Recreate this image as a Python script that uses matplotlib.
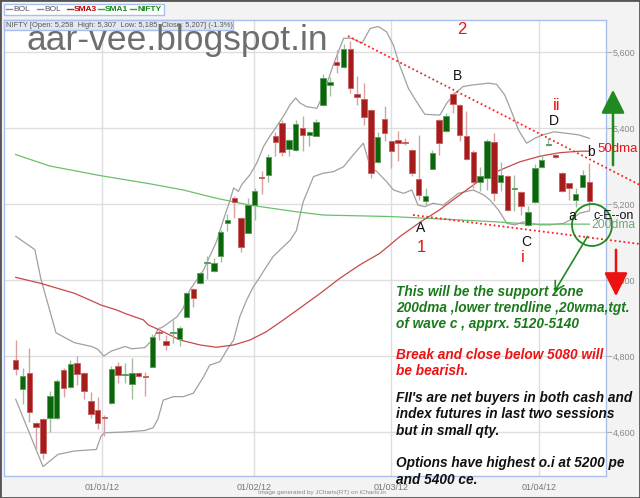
import matplotlib
matplotlib.use('Agg')
import matplotlib.pyplot as plt
from matplotlib.patches import Rectangle, Ellipse, FancyArrowPatch

# ---------------- data ----------------
opens = [4789, 4714, 4754, 4625, 4635, 4636, 4636, 4763, 4718, 4782,
         4756, 4682, 4659, 4640, 4676, 4775, 4749, 4726, 4754, 4747,
         4771, 4864, 4839, 4861, 4844, 4903, 4975, 4993, 5045, 5025,
         5064, 5151, 5217, 5162, 5125, 5198, 5271, 5277, 5379, 5414,
         5345, 5343, 5400, 5381, 5380, 5460, 5514, 5574, 5561, 5609,
         5489, 5477, 5448, 5311, 5424, 5365, 5369, 5362, 5343, 5266,
         5207, 5293, 5422, 5391, 5490, 5461, 5380, 5336, 5257, 5268,
         5362, 5257, 5273, 5240, 5232, 5146, 5204, 5297, 5354, 5330,
         5282, 5254, 5210, 5246, 5258]
highs = [4842, 4769, 4820, 4627, 4637, 4708, 4740, 4768, 4789, 4800,
         4758, 4704, 4692, 4645, 4775, 4784, 4781, 4796, 4758, 4758,
         4857, 4877, 4855, 4896, 4879, 4969, 4978, 5022, 5062, 5057,
         5132, 5174, 5220, 5167, 5215, 5242, 5286, 5331, 5389, 5420,
         5370, 5422, 5431, 5392, 5424, 5542, 5533, 5606, 5621, 5628,
         5536, 5518, 5450, 5389, 5457, 5367, 5393, 5374, 5345, 5382,
         5242, 5343, 5424, 5440, 5496, 5463, 5444, 5343, 5297, 5370,
         5387, 5310, 5275, 5275, 5234, 5194, 5304, 5330, 5374, 5338,
         5285, 5256, 5241, 5289, 5307]
lows = [4749, 4673, 4626, 4556, 4530, 4600, 4633, 4692, 4716, 4723,
        4686, 4638, 4609, 4589, 4675, 4730, 4730, 4688, 4745, 4695,
        4770, 4842, 4815, 4833, 4826, 4902, 4930, 4989, 5003, 5020,
        5048, 5130, 5163, 5075, 5123, 5158, 5226, 5257, 5325, 5325,
        5325, 5340, 5339, 5352, 5378, 5458, 5485, 5545, 5559, 5492,
        5461, 5409, 5268, 5309, 5365, 5296, 5312, 5354, 5273, 5211,
        5198, 5292, 5330, 5390, 5439, 5365, 5316, 5242, 5233, 5238,
        5207, 5233, 5181, 5181, 5172, 5141, 5202, 5296, 5352, 5320,
        5232, 5211, 5192, 5244, 5185]
closes = [4765, 4747, 4653, 4613, 4544, 4695, 4734, 4716, 4779, 4752,
          4708, 4647, 4624, 4637, 4767, 4751, 4751, 4755, 4747, 4744,
          4851, 4861, 4830, 4863, 4874, 4967, 4953, 5018, 5047, 5046,
          5127, 5157, 5204, 5088, 5198, 5235, 5268, 5324, 5362, 5336,
          5368, 5411, 5382, 5389, 5415, 5532, 5521, 5565, 5609, 5505,
          5482, 5429, 5282, 5375, 5386, 5340, 5361, 5360, 5282, 5223,
          5220, 5333, 5361, 5431, 5464, 5382, 5318, 5257, 5273, 5365,
          5229, 5277, 5185, 5243, 5194, 5179, 5295, 5317, 5358, 5324,
          5233, 5242, 5226, 5277, 5207]

# Bollinger upper / lower, SMA3 (50dma), SMA1 (200dma): (bar index, value)
bb_up_idx = [0, 2.8, 3.7, 5.9, 8.6, 11.1, 12.0, 12.9, 14.0, 16.0, 17.0, 18.9, 20.1, 20.8,
             21.6, 22.6, 23.6, 24.5, 25.5, 26.5, 27.5, 28.4, 29.4, 30.4, 31.4, 31.9, 32.6,
             33.1, 34.3, 35.3, 36.3, 37.2, 38.2, 39.2, 40.2, 41.0, 41.6, 42.6, 44.1, 45.0,
             46.5, 48.0, 49.2, 50.7, 51.9, 53.1, 54.3, 55.3, 56.2, 57.5, 58.7, 59.9, 62.1,
             63.1, 64.3, 65.5, 66.8, 69.2, 70.4, 71.6, 72.6, 73.6, 74.8, 76.0, 77.2, 78.8,
             80.7, 82.4, 84.0]
bb_up = [5115, 5080, 5002, 4861, 4835, 4825, 4818, 4800, 4813, 4825, 4819, 4822, 4844, 4870,
         4877, 4890, 4903, 4925, 4974, 5000, 5026, 5062, 5101, 5158, 5211, 5242, 5233,
         5251, 5277, 5308, 5352, 5378, 5404, 5431, 5462, 5479, 5466, 5456, 5452, 5487,
         5566, 5636, 5636, 5623, 5662, 5667, 5653, 5618, 5566, 5504, 5469, 5436, 5434,
         5465, 5491, 5509, 5513, 5518, 5515, 5487, 5443, 5395, 5360, 5373, 5382, 5390,
         5386, 5382, 5373]
bb_lo_idx = [0, 4.0, 6.2, 8.6, 11.8, 12.5, 13.0, 16.0, 18.9, 20.1, 20.8, 21.6, 23.1, 24.5,
             26.0, 27.5, 28.4, 29.9, 30.9, 31.9, 32.8, 33.8, 34.8, 35.8, 36.7, 37.7, 39.2,
             40.2, 41.1, 42.1, 43.6, 45.0, 46.5, 48.0, 49.4, 50.9, 51.9, 52.9, 54.3, 55.3,
             56.8, 58.0, 58.9, 59.9, 61.1, 62.6, 64.8, 67.0, 68.5, 69.4, 70.7, 71.9, 73.1,
             74.3, 75.3, 76.8, 78.2, 80.2, 81.2, 82.6, 84.0]
bb_lo = [4686, 4509, 4541, 4550, 4554, 4589, 4598, 4600, 4604, 4611, 4633, 4684, 4693, 4693,
         4702, 4745, 4776, 4785, 4815, 4842, 4903, 4947, 4982, 5009, 5035, 5062, 5088,
         5105, 5130, 5206, 5272, 5281, 5285, 5298, 5329, 5360, 5298, 5285, 5259, 5237,
         5228, 5237, 5197, 5193, 5202, 5197, 5228, 5237, 5224, 5211, 5184, 5149, 5145,
         5153, 5149, 5145, 5145, 5149, 5158, 5176, 5182]
sma3_idx = [0, 3.7, 8.6, 10.9, 12.5, 14.8, 16.0, 18.7, 19.4, 21.1, 24.1, 27.0, 29.4, 31.9,
            34.3, 36.7, 39.2, 41.6, 44.6, 47.5, 50.4, 53.3, 56.3, 59.2, 62.1, 65.1, 68.0,
            70.9, 73.8, 76.8, 79.7, 82.6, 84.0]
sma3 = [5007, 4991, 4965, 4947, 4934, 4921, 4912, 4895, 4882, 4868, 4842, 4829, 4823, 4829,
        4842, 4864, 4895, 4926, 4965, 5005, 5040, 5070, 5115, 5152, 5185, 5225, 5263,
        5289, 5311, 5326, 5335, 5339, 5339]
sma1_idx = [0, 5.0, 12.3, 19.7, 24.5, 29.4, 34.3, 40.9, 45.0, 54.8, 60.7, 70.4, 75.3, 80.5, 84.0]
sma1 = [5330, 5300, 5275, 5253, 5237, 5215, 5197, 5180, 5171, 5167, 5162, 5153, 5147, 5147, 5147]

date_labels = ['01/01/12', '01/02/12', '01/03/12', '01/04/12']
date_pos = [12.64, 34.93, 54.9, 76.66]
y_ticks = [4600, 4800, 5000, 5200, 5400, 5600]

# ---------------- layout ----------------
W, H = 640, 498
X0, DX = 15.7, 6.83          # pixel x of first bar, bar spacing
fig = plt.figure(figsize=(W / 100, H / 100), dpi=100)
fig.patch.set_facecolor('#f3f3f3')
plt.rcParams['font.family'] = ['Liberation Sans', 'DejaVu Sans']

L, R, T, B = 4, 606, 20, 476
ax = fig.add_axes([L / W, 1 - B / H, (R - L) / W, (B - T) / H])
ax.set_facecolor('white')
ax.set_xlim((L - X0) / DX, (R - X0) / DX)
ax.set_ylim(5600 - (B - 52) / 0.38, 5600 + (52 - T) / 0.38)

ax.set_yticks(y_ticks)
ax.set_yticklabels([f'{v:,}' for v in y_ticks])
ax.yaxis.tick_right()
ax.tick_params(axis='y', length=4, width=0.8, color='#b0b0b0', labelsize=6.5,
               labelcolor='#888888', pad=1)
ax.set_xticks(date_pos)
ax.set_xticklabels(date_labels)
ax.tick_params(axis='x', length=0, labelsize=6.5, labelcolor='#777777', pad=5)
ax.grid(True, color='#dedede', lw=1)
ax.set_axisbelow(True)
for s in ax.spines.values():
    s.set_color('#a9c0ee')
    s.set_linewidth(1)


def fx(x, y):
    return x / W, 1 - y / H


# overlay lines
ax.plot(bb_up_idx, bb_up, color='#a0a0a0', lw=0.9, zorder=2)
ax.plot(bb_lo_idx, bb_lo, color='#a0a0a0', lw=0.9, zorder=2)
ax.plot(sma1_idx, sma1, color='#6cbf6c', lw=0.9, zorder=2)
ax.plot(sma3_idx, sma3, color='#c84848', lw=0.9, zorder=2)

# candles
bw = 0.8
for i, (o, h, l, c) in enumerate(zip(opens, highs, lows, closes)):
    up = c >= o
    wick = '#9fbd9f' if up else '#d8a0a0'
    face = '#0b650b' if up else '#a51c1c'
    edge = '#5e9e5e' if up else '#c86464'
    ax.vlines(i, l, h, color=wick, lw=1.0, zorder=3)
    lo, hi = min(o, c), max(o, c)
    ax.add_patch(Rectangle((i - bw / 2, lo), bw, max(hi - lo, 2.5), facecolor=face,
                           edgecolor=edge, lw=0.7, zorder=4))


# trend lines (dotted red), extending beyond the plot
def p2d(x, y):
    return (x - X0) / DX, 5600 - (y - 52) / 0.38


for (xa, ya), (xb, yb) in [((348, 36), (640, 185)), ((413, 215), (640, 244))]:
    a, b = p2d(xa, ya), p2d(xb, yb)
    ax.plot([a[0], b[0]], [a[1], b[1]], color='#ff2020', lw=1.3, ls=(0, (1, 1.5)),
            clip_on=False, zorder=5)

# watermark
fig.text(*fx(26, 50), 'aar-vee.blogspot.in', fontsize=25.5, color='#6e6e6e',
         ha='left', va='baseline', zorder=10)

# legend box
fig.add_artist(Rectangle(fx(4, 15), 160 / W, 11 / H, transform=fig.transFigure,
                         facecolor='white', edgecolor='#a9c0ee', lw=1))
leg_items = [('BOL', 6, '#8a8a8a', '#555555', 'normal'), ('BOL', 37, '#8a8a8a', '#555555', 'normal'),
             ('SMA3', 67, '#cc2222', '#bb0000', 'bold'), ('SMA1', 98, '#33aa33', '#118811', 'bold'),
             ('NIFTY', 130, '#33aa33', '#118811', 'bold')]
for name, x, lc, tc, wt in leg_items:
    fig.add_artist(plt.Line2D([x / W, (x + 6) / W], [1 - 9.5 / H] * 2, color=lc, lw=1,
                              transform=fig.transFigure))
    fig.text(*fx(x + 7, 9.5), name, fontsize=6, color=tc, fontweight=wt, va='center', ha='left')

# header box
fig.add_artist(Rectangle(fx(4, 30), 229 / W, 10 / H, transform=fig.transFigure,
                         facecolor='#e3e7f0', edgecolor='#a9c0ee', lw=1, zorder=8))
hdr = (f'NIFTY [Open: {opens[-1]:,}  High: {highs[-1]:,}  Low: {lows[-1]:,}  '
       f'Close: {closes[-1]:,}] (-1.3%)')
fig.text(*fx(6, 25.5), hdr, fontsize=5.4, color='#555555', va='center', ha='left', zorder=9)

# wave labels
labels = [('2', 462, 30, '#ee1111', 12, 'center'), ('B', 458, 76, '#111111', 10, 'center'),
          ('ii', 557, 105, '#ee1111', 12, 'center'), ('D', 554, 121, '#111111', 10, 'center'),
          ('50dma', 597, 149, '#ee1111', 9.5, 'left'), ('b', 591, 152, '#111111', 10, 'center'),
          ('A', 421, 228, '#111111', 10, 'center'), ('1', 421, 247, '#ee1111', 12, 'center'),
          ('C', 526, 242, '#111111', 10, 'center'), ('i', 523, 258, '#ee1111', 12, 'center'),
          ('a', 572, 216, '#111111', 10, 'center'), ('c-E--on', 593, 216, '#111111', 9, 'left'),
          ('200dma', 591, 225, '#72a872', 8.7, 'left')]
for t, x, y, c, s, ha in labels:
    fig.text(*fx(x, y), t, color=c, fontsize=s, ha=ha, va='center', zorder=12)

# circle and arrows
fig.add_artist(Ellipse(fx(592, 225), 40 / W, 42 / H, transform=fig.transFigure,
                       fill=False, edgecolor='#1f8a1f', lw=1.3, zorder=12))


def arrow(x1, y1, x2, y2, color, style, lw, ms):
    fig.add_artist(FancyArrowPatch(fx(x1, y1), fx(x2, y2), transform=fig.transFigure,
                                   arrowstyle=style, color=color, lw=lw,
                                   mutation_scale=ms, zorder=12))


arrow(613, 168, 613, 87, '#1f8a1f', '-|>,head_length=0.8,head_width=0.4', 1.8, 18)
arrow(616, 247, 616, 299, '#ee1111', '-|>,head_length=0.8,head_width=0.4', 1.8, 18)
arrow(589, 234, 553, 294, '#1f8a1f', '->,head_length=0.5,head_width=0.3', 1.2, 12)

# commentary
notes = [('This will be the support zone', 292, '#1a7a1a'),
         ('200dma ,lower trendline ,20wma,tgt.', 308, '#1a7a1a'),
         ('of wave c , apprx. 5120-5140', 324, '#1a7a1a'),
         ('Break and close below 5080 will', 355, '#ee1111'),
         ('be bearish.', 371, '#ee1111'),
         ("FII's are net buyers in both cash and", 398, '#111111'),
         ('index futures in last two sessions', 414, '#111111'),
         ('but in small qty.', 431, '#111111'),
         ('Options have highest o.i at 5200 pe', 463, '#111111'),
         ('and 5400 ce.', 480, '#111111')]
for t, y, c in notes:
    fig.text(*fx(396, y), t, color=c, fontsize=9.8, fontweight='bold', fontstyle='italic',
             ha='left', va='center', zorder=12)

fig.text(*fx(322, 492), 'Image generated by JCharts(RT) on iCharts.in', fontsize=4.5,
         color='#888888', ha='center', va='center')

fig.add_artist(Rectangle((0, 0), 1, 1, transform=fig.transFigure, fill=False,
                         edgecolor='#555555', lw=2))

fig.savefig('out.png', dpi=100, facecolor=fig.get_facecolor())
